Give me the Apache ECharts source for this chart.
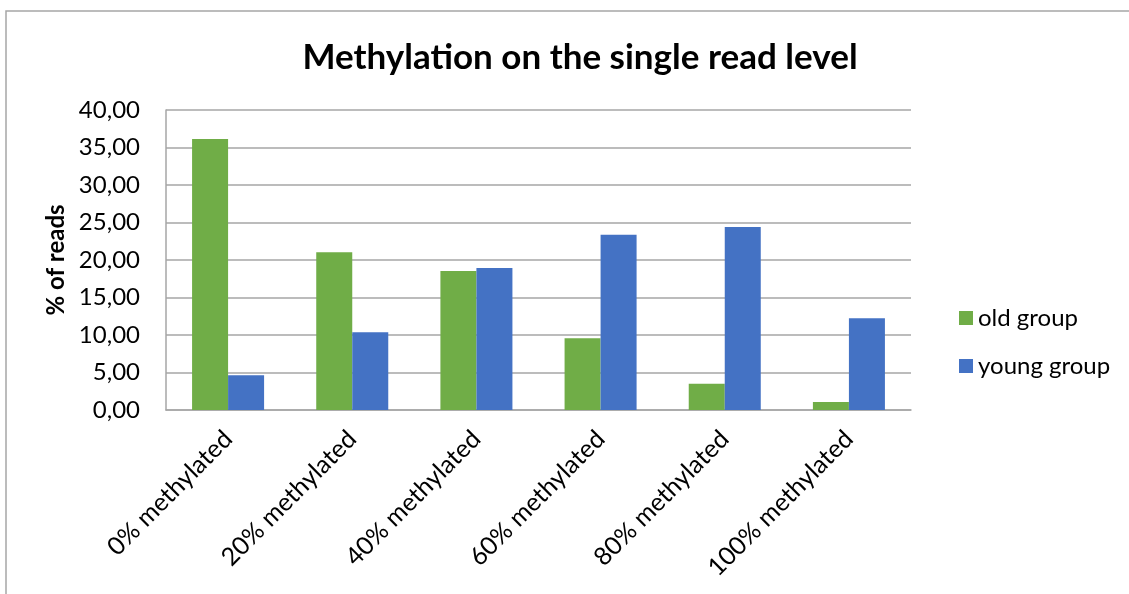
<!DOCTYPE html>
<html>
<head>
<meta charset="utf-8">
<script src="https://cdn.jsdelivr.net/npm/echarts@6/dist/echarts.min.js"></script>
<style>
  html, body { margin: 0; padding: 0; background: #ffffff; }
  #chart { width: 1129px; height: 594px; }
</style>
</head>
<body>
<div id="chart"></div>
<script>
// Share of reads per methylation level, by age group
const categories = ['0% methylated', '20% methylated', '40% methylated', '60% methylated', '80% methylated', '100% methylated'];
const oldGroup = [36.13, 21.02, 18.53, 9.56, 3.51, 1.07];
const youngGroup = [4.62, 10.36, 18.93, 23.38, 24.40, 12.22];
const yTicks = { min: 0, max: 40, interval: 5 };

const FONT = 'Lato, "Open Sans", sans-serif';
const chart = echarts.init(document.getElementById('chart'), null, { renderer: 'canvas' });

chart.setOption({
  backgroundColor: '#ffffff',
  animation: false,
  title: {
    text: 'Methylation on the single read level',
    left: 575, top: 35, textAlign: 'center',
    textStyle: { fontFamily: FONT, fontWeight: 'bold', fontSize: 35, color: '#000000' }
  },
  graphic: [{
    type: 'rect', silent: true,
    shape: { x: 6, y: 11, width: 1140, height: 600 },
    style: { fill: 'none', stroke: '#a6a6a6', lineWidth: 1.5 }
  }],
  legend: {
    orient: 'vertical', left: 954, top: 301,
    itemWidth: 14, itemHeight: 14, itemGap: 24, icon: 'rect',
    textStyle: { fontFamily: FONT, fontSize: 24, lineHeight: 24, color: '#000000', padding: [0, 0, 0, 0] },
    data: ['old group', 'young group']
  },
  grid: { left: 166, right: 218, top: 110, bottom: 184 },
  xAxis: {
    type: 'category', data: categories,
    axisLine: { lineStyle: { color: '#a6a6a6', width: 1.5 } },
    axisTick: { show: false },
    axisLabel: { rotate: 45, margin: 25, fontFamily: FONT, fontSize: 25, color: '#000000' }
  },
  yAxis: {
    type: 'value', min: yTicks.min, max: yTicks.max, interval: yTicks.interval,
    name: '% of reads', nameLocation: 'middle', nameGap: 97, nameRotate: 90,
    nameTextStyle: { fontFamily: FONT, fontWeight: 'bold', fontSize: 24, color: '#000000' },
    axisLine: { show: true, lineStyle: { color: '#a6a6a6', width: 1.5 } },
    axisTick: { show: false },
    axisLabel: {
      margin: 26, fontFamily: FONT, fontSize: 24, color: '#000000',
      formatter: v => v.toFixed(2).replace('.', ',')
    },
    splitLine: { lineStyle: { color: '#a6a6a6', width: 1.5 } }
  },
  series: [
    { name: 'old group', type: 'bar', data: oldGroup, barGap: '0%', barCategoryGap: '42%',
      itemStyle: { color: '#70ad47' } },
    { name: 'young group', type: 'bar', data: youngGroup,
      itemStyle: { color: '#4472c4' } }
  ]
});
</script>
</body>
</html>
